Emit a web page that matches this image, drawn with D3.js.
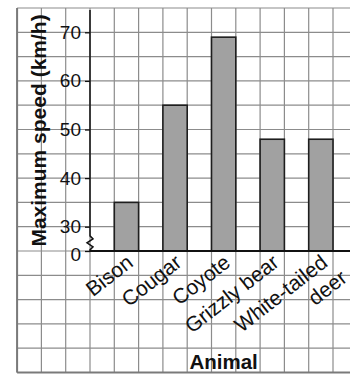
<!DOCTYPE html>
<html>
<head>
<meta charset="utf-8">
<script src="https://cdn.jsdelivr.net/npm/d3@7"></script>
<style>
  html, body { margin: 0; padding: 0; background: #fff; }
  svg { display: block; }
  text { font-family: "Liberation Sans", Arial, Helvetica, sans-serif; fill: #111; }
</style>
</head>
<body>
<svg id="chart" width="350" height="374"></svg>
<script>
// ---- data ----
const animals = ["Bison", "Cougar", "Coyote", "Grizzly bear", "White-tailed deer"];
const labelLines = [["Bison"], ["Cougar"], ["Coyote"], ["Grizzly bear"], ["White-tailed", "deer"]];
const speeds = [35, 55, 69, 48, 48];
const yTickValues = [30, 40, 50, 60, 70];
const breakValue = 25;        // axis position that is labelled "0" (broken axis)
const breakLabel = "0";
const yTitle = "Maximum speed (km/h)";
const xTitle = "Animal";

// ---- layout ----
const W = 350, H = 374;
const axisX = 90, baseY = 251, topY = 8;
const cell = (baseY - topY) / 10;

const svg = d3.select("#chart");

const y = d3.scaleLinear().domain([breakValue, 75]).range([baseY, topY]);
const x = d3.scaleBand().domain(animals)
  .range([axisX, axisX + 11 * cell])
  .paddingInner(0.5).paddingOuter(0.5);

// ---- graph-paper grid ----
const grid = svg.append("g");
const gridLeft = axisX - 3 * cell, gridBottom = y(0);
const vx = d3.range(-3, 12).map(k => axisX + k * cell).filter(v => v <= W + 1);
const hy = d3.range(0, 76, 5).map(v => y(v));
grid.selectAll("line.v").data(vx).join("line")
  .attr("x1", d => d).attr("x2", d => d)
  .attr("y1", topY).attr("y2", gridBottom)
  .attr("stroke", "#8c8c8c").attr("stroke-width", 1.2);
grid.selectAll("line.h").data(hy).join("line")
  .attr("x1", gridLeft).attr("x2", W)
  .attr("y1", d => d).attr("y2", d => d)
  .attr("stroke", "#8c8c8c").attr("stroke-width", 1.2);
// frame
grid.append("line").attr("x1", gridLeft).attr("x2", gridLeft).attr("y1", topY).attr("y2", gridBottom)
  .attr("stroke", "#7a7a7a").attr("stroke-width", 2);
grid.append("line").attr("x1", gridLeft).attr("x2", W).attr("y1", gridBottom).attr("y2", gridBottom)
  .attr("stroke", "#7a7a7a").attr("stroke-width", 2);

// ---- bars ----
svg.append("g").selectAll("rect").data(speeds).join("rect")
  .attr("x", (d, i) => x(animals[i]))
  .attr("width", x.bandwidth())
  .attr("y", d => y(d))
  .attr("height", d => baseY - y(d))
  .attr("fill", "#a1a1a1")
  .attr("stroke", "#1e1e1e").attr("stroke-width", 1.6);

// ---- y axis ----
const yAxis = d3.axisLeft(y)
  .tickValues([breakValue].concat(yTickValues))
  .tickFormat(d => d === breakValue ? breakLabel : d)
  .tickSize(5).tickPadding(4);
const gy = svg.append("g").attr("transform", `translate(${axisX},0)`).call(yAxis);
gy.select(".domain").remove();
gy.selectAll(".tick line").attr("stroke", "#111").attr("stroke-width", 1.3);
gy.selectAll(".tick text").attr("font-size", 19).attr("fill", "#111")
  .filter(d => d === breakValue).attr("dy", "0.5em");

// axis line with break zig-zag
const yb = y(27.5);
svg.append("path")
  .attr("d", `M${axisX},${y(74.6)} L${axisX},${yb - 3} l3,3 l-6,4 l6,4 l-3,3 L${axisX},${baseY}`)
  .attr("fill", "none").attr("stroke", "#111").attr("stroke-width", 1.5);

// x axis line
svg.append("line").attr("x1", axisX).attr("x2", W).attr("y1", baseY).attr("y2", baseY)
  .attr("stroke", "#111").attr("stroke-width", 2);

// ---- x labels ----
const lab = svg.append("g").selectAll("text").data(animals).join("text")
  .attr("transform", d => `translate(${x(d) + x.bandwidth() / 2 + 8},${baseY + 14}) rotate(-38)`)
  .attr("text-anchor", "end")
  .attr("font-size", 21);
lab.each(function(d, i) {
  const t = d3.select(this);
  labelLines[i].forEach((ln, j) => {
    t.append("tspan").attr("x", j === 0 ? 0 : 6).attr("dy", j === 0 ? 0 : "1.15em").text(ln);
  });
});

// ---- titles ----
svg.append("text")
  .attr("transform", `translate(46,${(y(74.6) + baseY) / 2}) rotate(-90)`)
  .attr("text-anchor", "middle").attr("font-size", 21).attr("font-weight", "bold")
  .text(yTitle);
svg.append("text")
  .attr("x", (x(animals[0]) + x(animals[4]) + x.bandwidth()) / 2)
  .attr("y", 369)
  .attr("text-anchor", "middle").attr("font-size", 20.5).attr("font-weight", "bold")
  .text(xTitle);
</script>
</body>
</html>
